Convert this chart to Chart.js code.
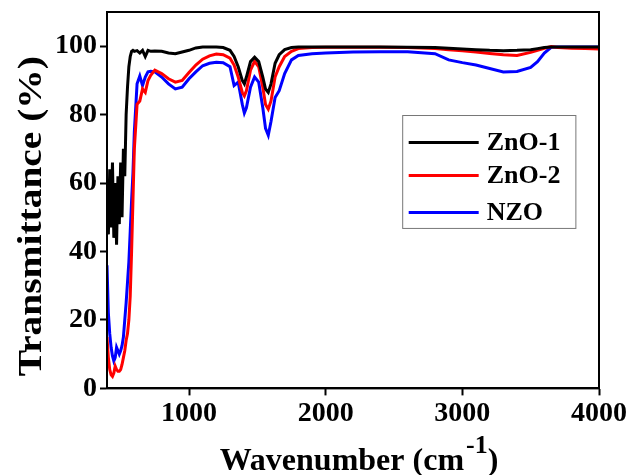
<!DOCTYPE html>
<html>
<head>
<meta charset="utf-8">
<script src="https://cdn.jsdelivr.net/npm/chart.js@4.4.0/dist/chart.umd.min.js"></script>
<style>
  html, body { margin: 0; padding: 0; background: #fff; }
  #wrap { width: 639px; height: 475px; }
</style>
</head>
<body>
<div id="wrap"><canvas id="ftir"></canvas></div>
<script>
// wavenumbers (cm-1) shared by all three spectra
const wavenumbers = [400, 410, 420, 430, 440, 450, 460, 470, 480, 490, 500, 510, 520, 530,
  540, 550, 560, 570, 580, 590, 600, 620, 640, 660, 680, 700, 720, 750, 800, 850, 900, 950,
  1000, 1050, 1100, 1150, 1200, 1250, 1300, 1330, 1360, 1390, 1405, 1420, 1450, 1480, 1510,
  1540, 1560, 1580, 1600, 1630, 1660, 1700, 1750, 1800, 1900, 2000, 2200, 2400, 2600, 2800,
  2900, 3000, 3100, 3200, 3300, 3400, 3500, 3550, 3600, 3650, 3700, 3800, 3900, 4000];

const zno1 = [55, 45, 64, 47, 66, 44, 60, 42, 62, 48, 66, 50, 70, 62,
  80, 88, 94, 97, 98.5, 98.8, 98.5, 98.7, 98, 98.8, 97, 98.8, 98.5, 98.6, 98.5, 98, 97.8, 98.3,
  98.8, 99.5, 99.8, 99.8, 99.8, 99.6, 98.8, 97, 94, 90, 89, 91, 95.5, 96.8, 95.5,
  91, 87.5, 86.5, 89, 95, 97.5, 99, 99.6, 99.8, 99.8, 99.8, 99.8, 99.8, 99.7, 99.6,
  99.4, 99.2, 99, 98.8, 98.7, 98.8, 99, 99.3, 99.6, 99.8, 99.8, 99.8, 99.8, 99.8];

const zno2 = [15, 9, 5.5, 4, 3.5, 4.5, 6.5, 5.5, 5, 5, 5.5, 7, 9, 11,
  14, 16, 20, 27, 40, 55, 70, 83, 84, 87.5, 86.5, 90, 91.5, 93, 92, 90.5, 89.5, 90,
  92.3, 94.5, 96.2, 97.2, 97.7, 97.5, 96.5, 94.5, 91, 86.5, 85.5, 87, 93, 95.6, 94,
  88, 83, 81.6, 84, 91, 94, 97, 98.5, 99.3, 99.6, 99.7, 99.7, 99.7, 99.6, 99.3,
  99, 98.7, 98.3, 97.9, 97.5, 97.3, 98.2, 98.8, 99.4, 99.9, 99.6, 99.4, 99.3, 99.2];

const nzo = [36, 22, 16, 12, 9.5, 8, 9, 12, 11, 10, 11, 12.5, 15, 20,
  25, 31, 37, 46, 55, 63, 75, 89, 91.3, 88.5, 91, 92.5, 92.7, 92.5, 91, 89, 87.5, 88,
  90.5, 92.5, 94.3, 95, 95.3, 95.2, 94, 88.5, 89.5, 83, 80.5, 82, 88, 91, 89.5,
  82, 76, 74, 78, 85, 87, 92, 96, 97.3, 97.8, 98, 98.3, 98.4, 98.4, 97.8,
  96, 95.2, 94.5, 93.5, 92.5, 92.6, 93.8, 95.5, 98, 99.7, 99.8, 99.8, 99.8, 99.8];

const seriesNames = ['ZnO-1', 'ZnO-2', 'NZO'];
const seriesColors = ['#000000', '#ff0000', '#0000ff'];
const xTicks = [1000, 2000, 3000, 4000];
const yTicks = [0, 20, 40, 60, 80, 100];

const FONT = '"Liberation Serif", "Times New Roman", serif';

function toPoints(vals) {
  return wavenumbers.map((w, i) => ({ x: w, y: vals[i] }));
}

// frame around plot, axis titles and the boxed legend
const extras = {
  id: 'extras',
  afterDraw(chart) {
    const ctx = chart.ctx;
    const a = chart.chartArea;
    ctx.save();
    ctx.strokeStyle = '#000';
    ctx.lineWidth = 2;
    ctx.strokeRect(a.left, a.top, a.right - a.left, a.bottom - a.top);

    // x title with superscript
    ctx.fillStyle = '#000';
    ctx.textBaseline = 'alphabetic';
    ctx.textAlign = 'left';
    ctx.font = 'bold 32px ' + FONT;
    const main = 'Wavenumber (cm';
    const wMain = ctx.measureText(main).width;
    ctx.font = 'bold 26px ' + FONT;
    const wSup = ctx.measureText('-1').width;
    ctx.font = 'bold 32px ' + FONT;
    const total = wMain + wSup + ctx.measureText(')').width;
    const x0 = (a.left + a.right) / 2 + 5 - total / 2;
    const base = 470;
    ctx.fillText(main, x0, base);
    ctx.font = 'bold 26px ' + FONT;
    ctx.fillText('-1', x0 + wMain + 2, base - 17);
    ctx.font = 'bold 32px ' + FONT;
    ctx.fillText(')', x0 + wMain + wSup + 2, base);

    // y title
    ctx.save();
    ctx.translate(41, (a.top + a.bottom) / 2 + 16);
    ctx.rotate(-Math.PI / 2);
    ctx.scale(1.16, 1);
    ctx.textAlign = 'center';
    ctx.font = 'bold 34px ' + FONT;
    ctx.fillText('Transmittance (%)', 0, 0);
    ctx.restore();

    // legend
    const w = a.right - a.left, h = a.bottom - a.top;
    const bx = a.left + w * 0.601, by = a.top + h * 0.275;
    const bw = w * 0.352, bh = h * 0.30;
    ctx.lineWidth = 1;
    ctx.strokeStyle = '#777';
    ctx.strokeRect(bx, by, bw, bh);
    const rows = [27, 60, 97];
    ctx.font = 'bold 26px ' + FONT;
    ctx.textBaseline = 'middle';
    ctx.textAlign = 'left';
    seriesNames.forEach((name, i) => {
      const y = by + rows[i];
      ctx.strokeStyle = seriesColors[i];
      ctx.lineWidth = 3;
      ctx.beginPath();
      ctx.moveTo(bx + 6, y);
      ctx.lineTo(bx + 76, y);
      ctx.stroke();
      ctx.fillStyle = '#000';
      ctx.fillText(name, bx + 84, y + 1);
    });
    ctx.restore();
  }
};

new Chart(document.getElementById('ftir'), {
  type: 'line',
  data: {
    datasets: [zno1, zno2, nzo].map((vals, i) => ({
      label: seriesNames[i],
      data: toPoints(vals),
      borderColor: seriesColors[i],
      borderWidth: 3,
      pointRadius: 0,
      tension: 0,
      fill: false
    }))
  },
  options: {
    responsive: true,
    maintainAspectRatio: false,
    animation: false,
    layout: { padding: { left: 52, right: 40, top: 12, bottom: 42 } },
    plugins: { legend: { display: false }, tooltip: { enabled: false } },
    scales: {
      x: {
        type: 'linear',
        min: 400,
        max: 4000,
        afterBuildTicks: axis => { axis.ticks = xTicks.map(v => ({ value: v })); },
        grid: { drawOnChartArea: false, drawTicks: true, tickLength: 7, tickWidth: 2, color: '#000' },
        border: { display: true, color: '#000', width: 2 },
        ticks: { color: '#000', font: { family: FONT, size: 28, weight: 'bold' }, padding: 2, maxRotation: 0,
          callback: v => String(v) }
      },
      y: {
        min: 0,
        max: 110,
        afterBuildTicks: axis => { axis.ticks = yTicks.map(v => ({ value: v })); },
        afterFit: axis => { axis.paddingTop = 0; },
        grid: { drawOnChartArea: false, drawTicks: true, tickLength: 7, tickWidth: 2, color: '#000' },
        border: { display: true, color: '#000', width: 2 },
        ticks: { color: '#000', font: { family: FONT, size: 28, weight: 'bold' }, padding: 3,
          callback: v => String(v) }
      }
    }
  },
  plugins: [extras]
});
</script>
</body>
</html>
